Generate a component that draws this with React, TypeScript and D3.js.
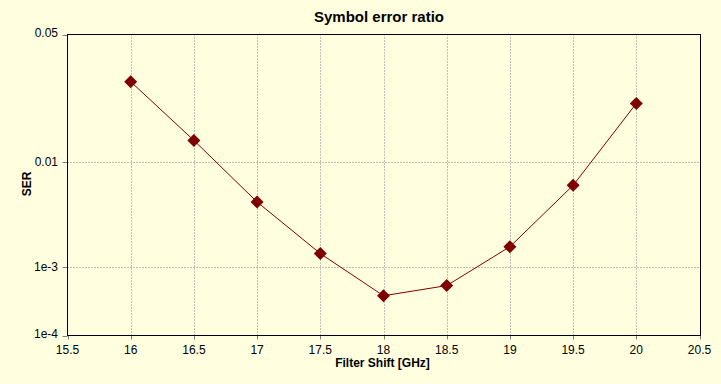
import React from "react";
import * as d3 from "d3";

const shifts = [16, 16.5, 17, 17.5, 18, 18.5, 19, 19.5, 20];
const ser = [0.0308, 0.0142, 0.0048, 0.00145, 0.00042, 0.00058, 0.00173, 0.00665, 0.0237];
const xTicks = [15.5, 16, 16.5, 17, 17.5, 18, 18.5, 19, 19.5, 20, 20.5];
const yTicks = [0.05, 0.01, 0.001, 0.0001];
const yTickLabels = ["0.05", "0.01", "1e-3", "1e-4"];

// Acklam inverse normal CDF
function probit(p: number): number {
  const a = [-3.969683028665376e1, 2.209460984245205e2, -2.759285104469687e2, 1.38357751867269e2, -3.066479806614716e1, 2.506628277459239];
  const b = [-5.447609879822406e1, 1.615858368580409e2, -1.556989798598866e2, 6.680131188771972e1, -1.328068155288572e1];
  const c = [-7.784894002430293e-3, -3.223964580411365e-1, -2.400758277161838, -2.549732539343734, 4.374664141464968, 2.938163982698783];
  const d = [7.784695709041462e-3, 3.224671290700398e-1, 2.445134137142996, 3.754408661907416];
  const pl = 0.02425;
  if (p < pl) {
    const q = Math.sqrt(-2 * Math.log(p));
    return (((((c[0] * q + c[1]) * q + c[2]) * q + c[3]) * q + c[4]) * q + c[5]) /
      ((((d[0] * q + d[1]) * q + d[2]) * q + d[3]) * q + 1);
  } else if (p <= 1 - pl) {
    const q = p - 0.5;
    const r = q * q;
    return (((((a[0] * r + a[1]) * r + a[2]) * r + a[3]) * r + a[4]) * r + a[5]) * q /
      (((((b[0] * r + b[1]) * r + b[2]) * r + b[3]) * r + b[4]) * r + 1);
  } else {
    const q = Math.sqrt(-2 * Math.log(1 - p));
    return -(((((c[0] * q + c[1]) * q + c[2]) * q + c[3]) * q + c[4]) * q + c[5]) /
      ((((d[0] * q + d[1]) * q + d[2]) * q + d[3]) * q + 1);
  }
}
const qdb = (p: number) => Math.log10(-probit(p));

const W = 721, H = 384;
const left = 67.5, right = 700.5, top = 34.5, bottom = 335.5;
const font = "Arial, 'Liberation Sans', sans-serif";

export default function App() {
  const x = d3.scaleLinear().domain([15.5, 20.5]).range([left, right - 1]);
  const yq = d3.scaleLinear().domain([qdb(0.0001), qdb(0.05)]).range([bottom, top]);
  const y = (p: number) => yq(qdb(p));
  const line = d3.line<number>().x((_, i) => x(shifts[i])).y((v) => y(v));
  const pts = ser.map((v, i) => [x(shifts[i]), y(v)]);
  const s = 6.5;
  return (
    <svg width={W} height={H} style={{ position: "absolute", left: 0, top: 0, background: "#FFFFE0" }} fontFamily={font}>
      <rect x={0} y={0} width={W} height={H} fill="#FFFFE0" />
      {/* grid */}
      {xTicks.slice(1, -1).map((t) => (
        <line key={"gx" + t} x1={Math.round(x(t)) + 0.5} x2={Math.round(x(t)) + 0.5} y1={top} y2={bottom} stroke="#808080" strokeDasharray="1,2" />
      ))}
      {yTicks.slice(1, -1).map((t) => (
        <line key={"gy" + t} x1={left} x2={right} y1={Math.round(y(t)) + 0.5} y2={Math.round(y(t)) + 0.5} stroke="#808080" strokeDasharray="1,2" />
      ))}
      {/* ticks */}
      {xTicks.map((t) => (
        <line key={"tx" + t} x1={Math.round(x(t)) + 0.5} x2={Math.round(x(t)) + 0.5} y1={bottom} y2={bottom + 4} stroke="#808080" />
      ))}
      {yTicks.map((t) => (
        <line key={"ty" + t} x1={left - 5} x2={left} y1={Math.round(y(t)) + 0.5} y2={Math.round(y(t)) + 0.5} stroke="#808080" />
      ))}
      {/* border */}
      <rect x={left} y={top} width={right - left} height={bottom - top} fill="none" stroke="#000" strokeWidth={1} />
      {/* tick labels */}
      {xTicks.map((t) => (
        <text key={"lx" + t} x={x(t)} y={bottom + 18} fontSize={12} textAnchor="middle" fill="#000">
          {d3.format("")(t)}
        </text>
      ))}
      {yTicks.map((t, i) => (
        <text key={"ly" + t} x={58} y={y(t) + (i === 0 || i === yTicks.length - 1 ? -2 : 0)} fontSize={12} textAnchor="end" dominantBaseline="central" fill="#000">
          {yTickLabels[i]}
        </text>
      ))}
      {/* data */}
      <path d={line(ser) || ""} fill="none" stroke="#800000" strokeWidth={1} />
      {pts.map(([px, py], i) => (
        <path key={"m" + i} d={`M${px},${py - s}L${px + s},${py}L${px},${py + s}L${px - s},${py}Z`} fill="#800000" />
      ))}
      {/* titles */}
      <text x={379} y={21.5} fontSize={15} fontWeight="bold" textAnchor="middle" fill="#000">Symbol error ratio</text>
      <text x={382.5} y={366.5} fontSize={12} fontWeight="bold" textAnchor="middle" fill="#000">Filter Shift [GHz]</text>
      <text transform={`translate(30.5,184) rotate(-90)`} fontSize={12} fontWeight="bold" textAnchor="middle" fill="#000">SER</text>
    </svg>
  );
}
